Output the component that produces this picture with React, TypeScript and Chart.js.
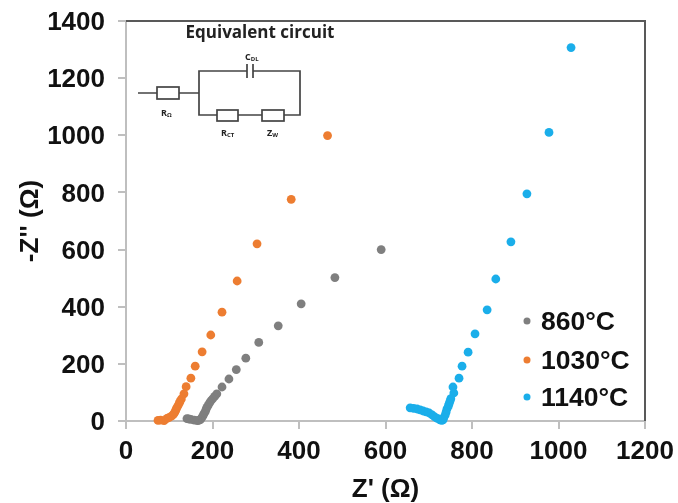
import React, { useEffect, useRef } from "react";
import { Chart, registerables } from "chart.js";

Chart.register(...registerables);

const xTicks = [0, 200, 400, 600, 800, 1000, 1200];
const seriesNames = ["860°C", "1030°C", "1140°C"];
const seriesColors = ["#7f7f7f", "#ed7d31", "#1aaeea"];

const x860 = [590, 483, 405, 352, 307, 277, 255, 238, 222, 210, 205, 200, 196, 193, 190, 187, 185, 183, 180, 178, 175, 172, 168, 165, 158, 150, 145, 141];
const y860 = [600, 502, 410, 333, 275, 220, 180, 147, 119, 95, 86, 77, 70, 63, 55, 48, 40, 32, 25, 18, 11, 5, 2, 1, 3, 6, 7, 8];

const x1030 = [466, 382, 303, 257, 222, 196, 176, 160, 150, 139, 134, 128, 125, 123, 120, 117, 115, 113, 110, 106, 100, 95, 88, 80, 74];
const y1030 = [999, 776, 620, 490, 381, 301, 242, 192, 150, 120, 95, 77, 69, 62, 53, 45, 38, 31, 24, 18, 13, 9, 1, 3, 2];

const x1140 = [1029, 978, 927, 890, 855, 835, 807, 791, 777, 770, 756, 758, 751, 749, 747, 745, 742, 740, 738, 735, 733, 730, 726, 720, 714, 708, 701, 694, 687, 680, 673, 665, 657];
const y1140 = [1307, 1010, 795, 627, 497, 389, 305, 241, 192, 150, 119, 98, 78, 69, 60, 51, 42, 31, 21, 12, 4, 2, 4, 9, 14, 21, 28, 32, 35, 39, 42, 44, 46];

const toPoints = (xs: number[], ys: number[]) => xs.map((x, i) => ({ x, y: ys[i] }));

const BODY = "'Liberation Sans', Arial, sans-serif";
const INSET = "'Open Sans', 'Noto Sans', sans-serif";

const frame = {
  id: "frame",
  beforeDatasetsDraw(chart: Chart) {
    const { ctx, chartArea: a } = chart;
    ctx.save();
    ctx.strokeStyle = "#595959";
    ctx.lineWidth = 2;
    ctx.beginPath();
    ctx.moveTo(a.left, a.top);
    ctx.lineTo(a.right, a.top);
    ctx.lineTo(a.right, a.bottom);
    ctx.stroke();
    ctx.restore();
  },
};

const legendAndInset = {
  id: "legendAndInset",
  afterDraw(chart: Chart) {
    const { ctx } = chart;
    ctx.save();
    // legend
    const rows = [321, 360, 397];
    seriesNames.forEach((name, i) => {
      ctx.fillStyle = seriesColors[i];
      ctx.beginPath();
      ctx.arc(527, rows[i], 3.5, 0, Math.PI * 2);
      ctx.fill();
      ctx.fillStyle = "#111";
      ctx.font = `bold 26.5px ${BODY}`;
      ctx.textAlign = "left";
      ctx.textBaseline = "middle";
      ctx.fillText(name, 541, rows[i] + 2);
    });
    // circuit
    ctx.strokeStyle = "#444";
    ctx.lineWidth = 1.7;
    ctx.beginPath();
    const seg = (pts: number[][]) => {
      ctx.moveTo(pts[0][0], pts[0][1]);
      pts.slice(1).forEach((p) => ctx.lineTo(p[0], p[1]));
    };
    seg([[138, 93], [157, 93]]);
    seg([[179, 93], [199, 93]]);
    seg([[247, 71], [199, 71], [199, 115], [217, 115]]);
    seg([[238, 115], [262, 115]]);
    seg([[284, 115], [300, 115], [300, 71], [253, 71]]);
    seg([[247, 64], [247, 78]]);
    seg([[253, 64], [253, 78]]);
    ctx.stroke();
    ctx.strokeRect(157, 87, 22, 12);
    ctx.strokeRect(217, 110, 21, 11);
    ctx.strokeRect(262, 110, 22, 11);
    ctx.fillStyle = "#222";
    ctx.textBaseline = "middle";
    ctx.textAlign = "center";
    ctx.font = `bold 17px ${INSET}`;
    ctx.fillText("Equivalent circuit", 260, 33);
    const lab = (main: string, sub: string, x: number, y: number) => {
      ctx.textAlign = "left";
      ctx.font = `bold 9px ${INSET}`;
      ctx.fillText(main, x, y);
      const w = ctx.measureText(main).width;
      ctx.font = `bold 6px ${INSET}`;
      ctx.fillText(sub, x + w, y + 2);
    };
    lab("C", "DL", 245, 57);
    lab("R", "Ω", 161, 113);
    lab("R", "CT", 221, 133);
    lab("Z", "W", 267, 133);
    ctx.restore();
  },
};

export default function App() {
  const ref = useRef<HTMLCanvasElement>(null);
  useEffect(() => {
    const chart = new Chart(ref.current!, {
      type: "scatter",
      data: {
        datasets: [
          { label: seriesNames[0], data: toPoints(x860, y860), backgroundColor: seriesColors[0], pointRadius: 4.4, pointBorderWidth: 0, clip: false },
          { label: seriesNames[1], data: toPoints(x1030, y1030), backgroundColor: seriesColors[1], pointRadius: 4.4, pointBorderWidth: 0, clip: false },
          { label: seriesNames[2], data: toPoints(x1140, y1140), backgroundColor: seriesColors[2], pointRadius: 4.4, pointBorderWidth: 0, clip: false },
        ],
      },
      options: {
        responsive: false,
        animation: false,
        layout: { padding: { left: 0, top: 21, right: 33, bottom: 0 } },
        plugins: { legend: { display: false }, tooltip: { enabled: false } },
        scales: {
          x: {
            type: "linear",
            min: 0,
            max: 1200,
            afterBuildTicks: (s: any) => {
              s.ticks = xTicks.map((value) => ({ value }));
            },
            afterFit: (s: any) => {
              s.height = 82;
              s.paddingLeft = 0;
              s.paddingRight = 0;
            },
            border: { color: "#bfbfbf", width: 2 },
            grid: { drawOnChartArea: false, color: "#bfbfbf", lineWidth: 2, tickLength: 8 },
            ticks: { color: "#111", font: { family: BODY, size: 26, weight: "bold" }, maxRotation: 0, padding: 7, callback: (v: any) => String(v) },
            title: { display: true, text: "Z' (Ω)", color: "#111", font: { family: BODY, size: 26, weight: "bold" }, padding: { top: 4, bottom: -2 } },
          },
          y: {
            min: 0,
            max: 1400,
            afterFit: (s: any) => {
              s.width = 126;
              s.paddingTop = 0;
              s.paddingBottom = 0;
            },
            border: { color: "#bfbfbf", width: 2 },
            grid: { drawOnChartArea: false, color: "#bfbfbf", lineWidth: 2, tickLength: 8 },
            ticks: { stepSize: 200, color: "#111", font: { family: BODY, size: 26, weight: "bold" }, padding: 13, labelOffset: 2, callback: (v: any) => String(v) },
            title: { display: true, text: "-Z'' (Ω)", color: "#111", font: { family: BODY, size: 26, weight: "bold" }, padding: { top: 15, bottom: 0 } },
          },
        },
      },
      plugins: [frame, legendAndInset],
    } as any);
    return () => chart.destroy();
  }, []);
  return (
    <div style={{ position: "absolute", left: 0, top: 0, width: 678, height: 503, background: "#fff" }}>
      <canvas ref={ref} width={678} height={503} style={{ display: "block" }} />
    </div>
  );
}
